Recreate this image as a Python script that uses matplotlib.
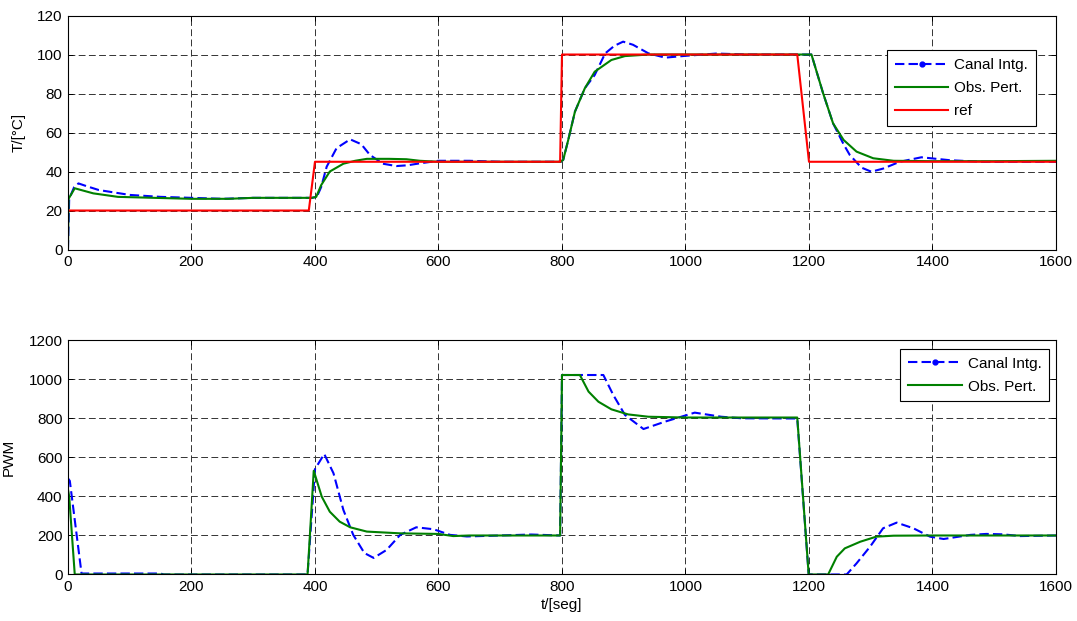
import numpy as np
import matplotlib.pyplot as plt
from matplotlib.lines import Line2D

plt.rcParams['font.family'] = ['Liberation Sans', 'DejaVu Sans']
plt.rcParams['font.size'] = 11

# ---------------- Daten: Temperatur (oben) -----------------------------------
t_ref = [0, 390, 400, 797, 800, 1181, 1200, 1600]
T_ref = [20, 20, 45, 45, 100, 100, 45, 45]

t_T_obs = [0, 1, 11, 41, 81, 140, 200, 260, 300, 395, 402, 410, 424, 446, 465,
           484, 520, 548, 570, 600, 700, 798, 802, 810, 821, 837, 853, 880,
           902, 940, 1000, 1100, 1204, 1223, 1239, 1256, 1277, 1304, 1337,
           1400, 1500, 1600]
T_obs = [0, 26, 31.4, 28.8, 27, 26.5, 26, 26, 26.5, 26.5, 27, 33, 40, 44, 45.5,
         46.5, 46.5, 46.3, 45.5, 45, 45, 45, 46, 56, 70.7, 82.7, 91.2, 97.2,
         99.2, 100, 100, 100, 100, 80, 64.7, 56.2, 50.2, 46.8, 45.5,
         45.3, 45.3, 45.5]

t_T_int = [0, 2, 10, 17, 30, 50, 100, 150, 200, 250, 300, 395, 403, 410, 419,
           435, 457, 475, 489, 510, 532, 550, 570, 600, 650, 700, 798, 802,
           810, 821, 837, 853, 870, 885, 899, 915, 940, 967, 999, 1050, 1100,
           1204, 1223, 1239, 1256, 1266, 1285, 1301, 1320, 1347, 1382, 1428,
           1480, 1600]
T_int = [0, 26, 32, 33.9, 32.5, 30.5, 28, 27, 26.5, 26, 26.5, 26.5, 27, 32, 42.5,
         52, 56.5, 54, 48.5, 44, 42.8, 43.2, 44.2, 45.5, 45.5, 45, 45, 46,
         56, 70.7, 82.7, 89.5, 100.6, 104.5, 106.6, 105, 100.6, 98.4, 99.3, 100.5, 100,
         100, 80, 64.7, 54, 48.5, 42, 39.9, 41.5, 45, 47.3, 45.8,
         45, 45]

# ---------------- Daten: PWM (unten) -----------------------------------------
t_P_obs = [0, 2, 11, 388, 398, 411, 424, 440, 457, 484, 538, 600, 624, 650,
           700, 797, 800, 829, 843, 859, 880, 907, 940, 1000, 1181, 1199.5,
           1231, 1245, 1258, 1283, 1309, 1337, 1400, 1600]
P_obs = [437, 400, 0, 0, 532, 399, 322, 271, 242, 220, 211, 208, 197, 200,
         200, 200, 1023, 1023, 938, 886, 847, 821, 809, 805, 805, 0,
         0, 91, 134, 168, 194, 199, 200, 200]

t_P_int = [0, 3, 22, 150, 155, 388, 400, 415, 430, 446, 462, 480, 495, 516,
           538, 564, 592, 619, 646, 700, 750, 797, 800, 867, 883, 902, 932,
           967, 1015, 1058, 1091, 1181, 1199.5, 1261, 1277, 1299, 1320, 1342,
           1369, 1396, 1418, 1461, 1487, 1514, 1542, 1600]
P_int = [493, 480, 5, 5, 0, 0, 540, 618, 519, 331, 203, 110, 85, 126,
         203, 242, 232, 203, 195, 200, 205, 200, 1023, 1023, 921, 818, 746,
         784, 830, 809, 801, 800, 0, 0, 57, 143, 237, 266,
         237, 194, 182, 203, 208, 206, 197, 200]

x_ticks = np.arange(0, 1601, 200)
T_ticks = np.arange(0, 121, 20)
P_ticks = np.arange(0, 1201, 200)

c_int = '#0000ff'
c_obs = '#008000'
c_ref = '#ff0000'
dash_int = (0, (4.5, 2))

fig = plt.figure(figsize=(10.77, 6.21), dpi=100)
ax1 = fig.add_axes([0.0631, 0.5982, 0.9174, 0.3768])
ax2 = fig.add_axes([0.0631, 0.0749, 0.9174, 0.3768])


def style_axes(ax):
    ax.set_xlim(0, 1600)
    ax.set_xticks(x_ticks)
    ax.tick_params(direction='in', length=3.6, width=0.7, top=True, right=True,
                   labelsize=11, pad=4)
    ax.grid(True, color='0.2', linestyle=(0, (7, 3.5)), linewidth=0.7)
    ax.set_axisbelow(True)
    for s in ax.spines.values():
        s.set_linewidth(0.8)


# ---------------- Oben: Temperatur -------------------------------------------
ax1.plot(t_T_int, T_int, color=c_int, linestyle=dash_int, linewidth=1.5)
ax1.plot(t_T_obs, T_obs, color=c_obs, linewidth=1.5)
ax1.plot(t_ref, T_ref, color=c_ref, linewidth=1.5)
style_axes(ax1)
ax1.set_ylim(0, 120)
ax1.set_yticks(T_ticks)
ax1.set_ylabel('T/[°C]', labelpad=8)

h_int = Line2D([], [], color=c_int, linestyle=dash_int, linewidth=1.5,
               marker='.', markersize=7)
h_obs = Line2D([], [], color=c_obs, linewidth=1.5)
h_ref = Line2D([], [], color=c_ref, linewidth=1.5)

leg_kw = dict(loc='upper right', fancybox=False, edgecolor='black', framealpha=1,
              borderaxespad=0, handlelength=3.5, handletextpad=0.4,
              labelspacing=0.6, borderpad=0.5, fontsize=11)
leg1 = ax1.legend([h_int, h_obs, h_ref], ['Canal Intg.', 'Obs. Pert.', 'ref'],
                  bbox_to_anchor=(0.9795, 0.851), **leg_kw)
leg1.get_frame().set_linewidth(0.8)

# ---------------- Unten: PWM -------------------------------------------------
ax2.plot(t_P_int, P_int, color=c_int, linestyle=dash_int, linewidth=1.5)
ax2.plot(t_P_obs, P_obs, color=c_obs, linewidth=1.5)
style_axes(ax2)
ax2.set_ylim(0, 1200)
ax2.set_yticks(P_ticks)
ax2.set_ylabel('PWM', labelpad=9)
ax2.set_xlabel('t/[seg]', labelpad=3)

leg2 = ax2.legend([h_int, h_obs], ['Canal Intg.', 'Obs. Pert.'],
                  bbox_to_anchor=(0.993, 0.9637), **leg_kw)
leg2.get_frame().set_linewidth(0.8)

fig.savefig('out.png', dpi=100)
